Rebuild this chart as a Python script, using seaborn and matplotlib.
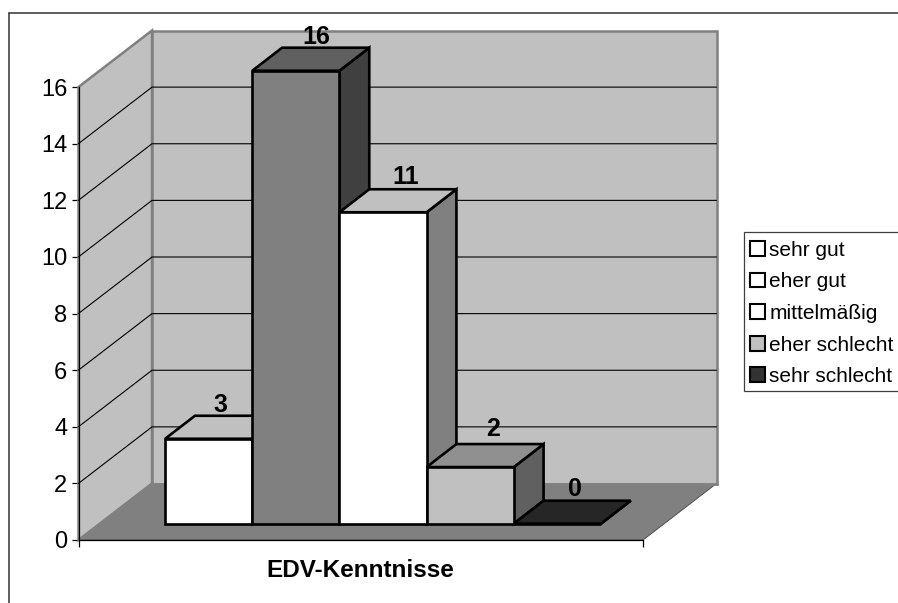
#!/usr/bin/env python3

import numpy as np
import pandas as pd
import seaborn as sns
import matplotlib
matplotlib.use("Agg")
import matplotlib.pyplot as plt
from matplotlib.lines import Line2D
from matplotlib.patches import Patch, Polygon, Rectangle
from matplotlib.transforms import Affine2D, IdentityTransform

thema = "EDV-Kenntnisse"
bewertung = ["sehr gut", "eher gut", "mittelmäßig", "eher schlecht", "sehr schlecht"]
anzahl = [3, 16, 11, 2, 0]
front_colors = ["#ffffff", "#808080", "#ffffff", "#c0c0c0", "#333333"]
top_colors = ["#c0c0c0", "#606060", "#c0c0c0", "#909090", "#262626"]
side_colors = ["#808080", "#404040", "#808080", "#606060", "#262626"]
legend_colors = ["#ffffff", "#ffffff", "#ffffff", "#c0c0c0", "#333333"]
y_ticks = [0, 2, 4, 6, 8, 10, 12, 14, 16]

W, H = 898, 603
WALL = (73.5, 56.5)     # depth of the whole floor in pixels
BAR = (29.8, 23.0)      # depth of one bar
BASE = (22.3, 16.3)     # front of bars sits this far into the floor
NUDGE = [12, 20, 23, 23, 18]    # label position compared to bar centre
LIFT = [34, 34, 35, 38, 35]

sns.set_theme(style="white", font="Liberation Sans")
plt.rcParams["font.family"] = ["Liberation Sans", "DejaVu Sans"]

fig = plt.figure(figsize=(W / 100, H / 100), dpi=100, facecolor="white")
ax = fig.add_axes([78.5 / W, (H - 540) / H, 564.5 / W, 453 / H])

df = pd.DataFrame({"thema": thema, "bewertung": bewertung, "anzahl": anzahl})
sns.barplot(data=df, x="thema", y="anzahl", hue="bewertung", hue_order=bewertung,
            palette=front_colors, saturation=1, width=0.772, gap=0, dodge=True,
            edgecolor="black", linewidth=1.9, legend=False, ax=ax)

ax.set_xlim(-0.5, 0.5)
ax.set_ylim(0, 16)
ax.patch.set_visible(False)


def at(x, y, shift=(0, 0)):
    return ax.transData.transform((x, y)) + np.array(shift)


def face(points, color, z, edge="black", lw=1.9):
    p = Polygon(points, closed=True, facecolor=color, edgecolor=edge, linewidth=lw,
                transform=IdentityTransform(), clip_on=False, zorder=z)
    ax.add_patch(p)


# walls and floor
x0, x1 = ax.get_xlim()
face([at(x0, 0), at(x1, 0), at(x1, 0, WALL), at(x0, 0, WALL)], "#808080", 0.5,
     edge="#505050", lw=0.7)
face([at(x0, 0, WALL), at(x1, 0, WALL), at(x1, 16, WALL), at(x0, 16, WALL)], "#c0c0c0", 0.6,
     edge="#808080", lw=1.8)
face([at(x0, 0), at(x0, 0, WALL), at(x0, 16, WALL), at(x0, 16)], "#c0c0c0", 0.7,
     edge="#808080", lw=1.8)
# the floor colour has to stay on top of the lower wall edge
ax.plot(*zip(at(x0, 0, WALL), at(x1, 0, WALL)), color="#808080", lw=1.8, zorder=0.8,
        transform=IdentityTransform(), clip_on=False)

for t in y_ticks[1:-1]:
    ax.plot(*zip(at(x0, t), at(x0, t, WALL), at(x1, t, WALL)), color="black", lw=0.8,
            zorder=0.9, transform=IdentityTransform(), clip_on=False)

# bars: seaborn gives the front, top and side come from the same rectangle
shift_bars = ax.transData + Affine2D().translate(*BASE)
for i, cont in enumerate(ax.containers):
    bar = cont[0]
    z = 3 + i
    bar.set_transform(shift_bars)
    bar.set_clip_on(False)
    bar.set_zorder(z + 0.5)
    left = bar.get_x()
    right = left + bar.get_width()
    h = bar.get_height()
    d = (BASE[0] + BAR[0], BASE[1] + BAR[1])
    face([at(left, h, BASE), at(right, h, BASE), at(right, h, d), at(left, h, d)], top_colors[i], z + 0.2)
    face([at(right, 0, BASE), at(right, h, BASE), at(right, h, d), at(right, 0, d)], side_colors[i], z + 0.1)
    cx, cy = at((left + right) / 2, h, BASE)
    ax.text(cx + NUDGE[i], cy + LIFT[i], str(anzahl[i]), transform=IdentityTransform(), ha="center",
            va="center", fontsize=18, fontweight="bold", color="black", zorder=20, clip_on=False)

for s in ["top", "right"]:
    ax.spines[s].set_visible(False)
for s in ["left", "bottom"]:
    ax.spines[s].set_color("black")
    ax.spines[s].set_linewidth(0.9)
    ax.spines[s].set_zorder(2)

ax.set_yticks(y_ticks)
ax.set_xticks([x0, x1])
ax.set_xticklabels(["", ""])
ax.tick_params(axis="both", length=5, width=0.9, color="black", left=True, bottom=True)
ax.tick_params(axis="y", labelsize=17, pad=3, labelcolor="black")
ax.set_ylabel("")
ax.set_xlabel(thema, fontsize=17.5, fontweight="bold", color="black", labelpad=5)

# legend box drawn by hand so the text can sit lower in it
fig.add_artist(Rectangle((744 / W, 1 - 391 / H), 160 / W, 159 / H, transform=fig.transFigure,
                         facecolor="white", edgecolor="#404040", linewidth=0.9))
handles = [Patch(facecolor=c, edgecolor="black", linewidth=1.5) for c in legend_colors]
fig.legend(handles, bewertung, loc="upper left", bbox_to_anchor=(744 / W, 1 - 234.5 / H),
           bbox_transform=fig.transFigure, borderaxespad=0, fontsize=15, frameon=False,
           handlelength=0.72, handleheight=0.72, handletextpad=0.2, labelspacing=0.605,
           borderpad=0.3, labelcolor="black")

# outer chart frame, right and bottom side fall outside the picture
fig.add_artist(Line2D([8.7 / W, 8.7 / W], [-0.01, 1 - 13.3 / H], color="#333333", lw=1.1))
fig.add_artist(Line2D([8.7 / W, 1.01], [1 - 13.3 / H, 1 - 13.3 / H], color="#333333", lw=1.1))

fig.savefig("out.png", dpi=100, facecolor="white")
plt.close(fig)
